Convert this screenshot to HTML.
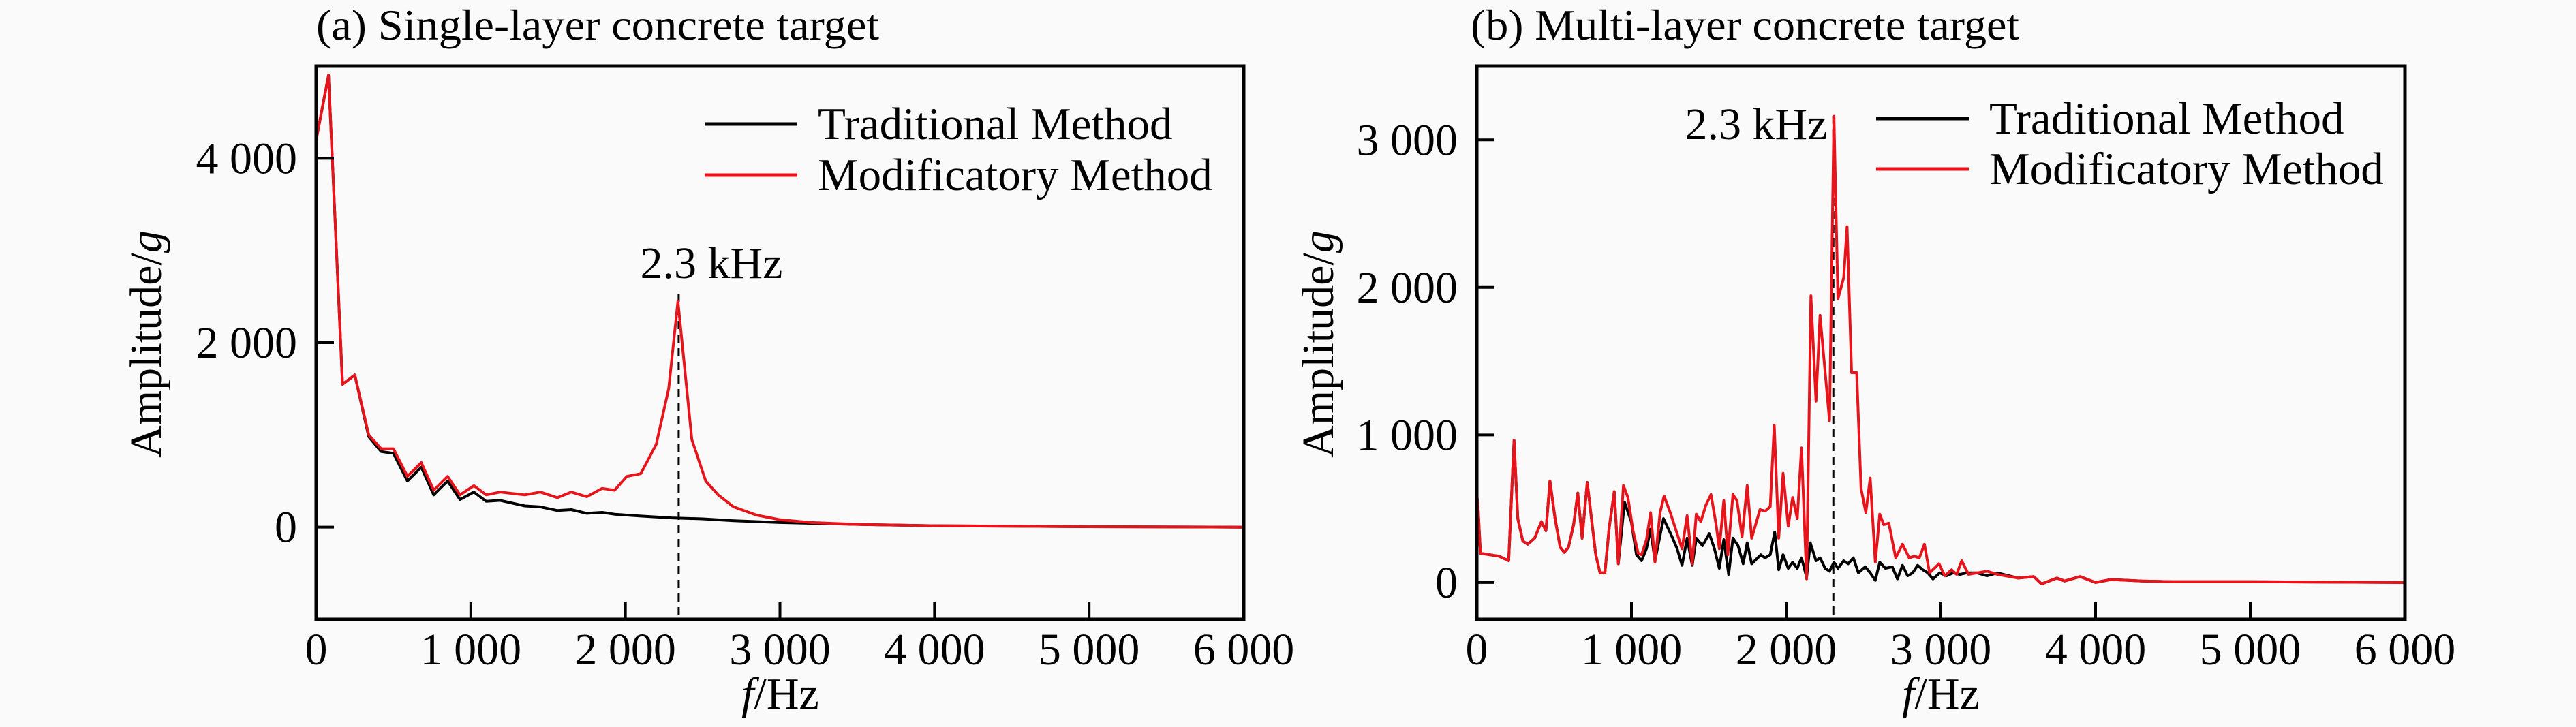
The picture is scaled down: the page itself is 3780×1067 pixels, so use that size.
<!DOCTYPE html>
<html><head><meta charset="utf-8"><style>
body{margin:0;background:#fafafa}
svg{display:block}
text{font-family:"Liberation Serif",serif;fill:#000}
</style></head><body>
<svg id="chart" width="3780" height="1067" viewBox="0 0 3780 1067"></svg>
<script>
// ---- Panel (a) data ----
const aRedF=[0,80,170,250,340,420,500,590,680,760,850,930,1020,1100,1190,1350,1450,1560,1650,1750,1850,1930,2010,2100,2200,2280,2340,2430,2520,2600,2700,2850,3000,3200,3500,4000,5000,6000];
const aRedV=[4200,4900,1550,1650,1000,850,850,550,700,400,550,350,450,350,380,350,380,320,380,330,420,400,550,580,900,1500,2450,950,500,350,220,130,80,50,30,15,5,0];
const aBlkF=[0,80,170,250,340,420,500,590,680,760,850,930,1020,1100,1190,1350,1450,1560,1650,1750,1850,1930,2100,2300,2500,2700,3000,3500,4000,5000,6000];
const aBlkV=[4200,4900,1550,1650,980,820,800,500,650,350,500,300,380,280,290,230,220,180,190,150,160,140,120,100,90,70,50,30,15,5,0];
// ---- Panel (b) data ----
const bRedF=[0,8,24,144,206,241,265,298,330,374,418,447,473,506,539,565,593,626,653,681,714,747,769,797,828,856,889,915,948,977,1010,1043,1065,1097,1124,1152,1185,1211,1251,1295,1327,1360,1393,1419,1448,1481,1514,1547,1568,1597,1623,1656,1682,1715,1748,1777,1831,1864,1897,1923,1952,1980,2013,2042,2072,2099,2132,2160,2193,2219,2280,2309,2335,2372,2394,2423,2456,2484,2515,2543,2576,2605,2631,2664,2708,2752,2795,2828,2861,2894,2927,2988,3025,3069,3102,3135,3179,3233,3299,3365,3500,3600,3650,3750,3800,3900,4000,4100,4300,4500,5000,6000];
const bRedV=[600,514,198,178,147,963,433,280,259,300,412,351,688,433,239,204,239,392,606,300,678,382,188,65,65,371,616,127,657,576,351,198,188,290,473,137,473,586,473,331,229,453,127,463,412,524,596,392,229,555,188,596,555,310,657,300,494,484,514,1065,300,739,382,576,433,912,24,1943,1229,1810,1096,3160,1922,2065,2412,1422,1422,637,473,708,137,463,392,402,167,259,167,178,167,259,65,127,45,86,55,147,55,65,76,55,30,40,-10,30,10,40,0,20,10,5,5,0];
const bBlkF=[0,8,24,144,206,241,265,298,330,374,418,447,473,506,539,565,593,626,653,681,714,747,769,797,828,856,889,915,955,999,1032,1065,1097,1124,1152,1207,1262,1295,1327,1360,1393,1419,1459,1503,1536,1568,1597,1628,1656,1689,1722,1748,1777,1836,1864,1897,1926,1952,1980,2013,2042,2072,2099,2132,2156,2193,2219,2252,2280,2309,2335,2372,2401,2434,2467,2511,2543,2576,2605,2642,2686,2719,2752,2785,2818,2850,2883,2916,2949,2993,3036,3080,3124,3168,3233,3299,3365,3500,3600,3650,3750,3800,3900,4000,4100,4300,4500,5000,6000];
const bBlkV=[600,514,198,178,147,963,433,280,259,300,412,351,688,433,239,204,239,392,606,300,678,382,188,65,65,371,616,127,545,412,188,147,229,361,147,433,310,229,116,300,116,300,249,331,229,96,290,55,300,249,127,269,127,188,167,188,341,86,188,96,137,96,167,35,269,147,167,96,76,137,96,147,127,167,65,106,65,14,137,96,106,24,116,45,65,116,86,65,24,65,45,65,55,65,65,45,65,30,40,-10,30,10,40,0,20,10,5,5,0];
const xTicks=[0,1000,2000,3000,4000,5000,6000];
const xTickLabels=["0","1 000","2 000","3 000","4 000","5 000","6 000"];
const aYTicks=[0,2000,4000], aYTickLabels=["0","2 000","4 000"];
const bYTicks=[0,1000,2000,3000], bYTickLabels=["0","1 000","2 000","3 000"];

const NS="http://www.w3.org/2000/svg";
const svg=document.getElementById('chart');
function el(tag,attrs,parent){const e=document.createElementNS(NS,tag);for(const k in attrs)e.setAttribute(k,attrs[k]);(parent||svg).appendChild(e);return e;}

function panel(p){
  const g=el('g',{});
  
  
  const sx=f=>p.x0+(f-0)/6000*(p.x1-p.x0);
  const sy=v=>p.yb+(v-p.ymin)/(p.ymax-p.ymin)*(p.yt-p.yb);
  const t=el('text',{x:p.titleX,y:58,'font-size':64,textLength:p.titleW,lengthAdjust:'spacingAndGlyphs'},g);
  t.textContent=p.title;
  
  
  const clip=el('clipPath',{id:'c'+p.name},g);
  el('rect',{x:p.x0,y:p.yt,width:p.x1-p.x0,height:p.yb-p.yt},clip);
  // dashed line
  const dl=el('line',{x1:sx(p.peakF),x2:sx(p.peakF),y1:p.dashTop,y2:p.yb,stroke:'#000','stroke-width':3,'stroke-dasharray':'12,8'},g);
  
  
  const series=[[p.bF,p.bV,'#000','traditional-series'],[p.rF,p.rV,'#e8141c','modificatory-series']];
  for(const [F,V,c,n] of series){
    const d=F.map((f,i)=>(i?'L':'M')+sx(f).toFixed(1)+','+sy(V[i]).toFixed(1)).join('');
    const pa=el('path',{d:d,fill:'none',stroke:c,'stroke-width':4,'stroke-linejoin':'round','clip-path':'url(#c'+p.name+')'},g);
    
    
  }
  const fr=el('rect',{x:p.x0,y:p.yt,width:p.x1-p.x0,height:p.yb-p.yt,fill:'none',stroke:'#000','stroke-width':5},g);
  
  
  xTicks.forEach((v,i)=>{
    const x=sx(v);
    if(i>0&&i<6){const tk=el('line',{x1:x,x2:x,y1:p.yb,y2:p.yb-26,stroke:'#000','stroke-width':4},g);
    
    }
    const tl=el('text',{x:x,y:975,'font-size':66,'text-anchor':'middle'},g);
    tl.textContent=xTickLabels[i];
    
    
  });
  p.yTicks.forEach((v,i)=>{
    const y=sy(v);
    const tk=el('line',{x1:p.x0,x2:p.x0+26,y1:y,y2:y,stroke:'#000','stroke-width':4},g);
    
    
    const tl=el('text',{x:p.x0-28,y:y+22,'font-size':66,'text-anchor':'end'},g);
    tl.textContent=p.yLabels[i];
    
    
  });
  const yl=el('text',{x:0,y:0,'font-size':66,'text-anchor':'middle',transform:`translate(${p.ylX},505) rotate(-90)`},g);
  yl.innerHTML='Amplitude/<tspan font-style="italic">g</tspan>';
  
  
  const xl=el('text',{x:p.xlX,y:1040,'font-size':66,'text-anchor':'middle'},g);
  xl.innerHTML='<tspan font-style="italic">f</tspan>/Hz';
  
  
  const pk=el('text',{x:p.pkX,y:p.pkY,'font-size':66,'text-anchor':'middle'},g);
  pk.textContent='2.3 kHz';
  
  
  const lg=el('g',{},g);
  
  
  [['Traditional Method','#000',p.lgY1],['Modificatory Method','#e8141c',p.lgY2]].forEach(([txt,c,y])=>{
    const ln=el('line',{x1:p.lgX,x2:p.lgX+136,y1:y,y2:y,stroke:c,'stroke-width':5},lg);
    
    
    const tt=el('text',{x:p.lgX+166,y:y+22,'font-size':67},lg);
    tt.textContent=txt;
    
    
  });
}
panel({name:'panel-a',title:'(a) Single-layer concrete target',titleX:464,titleW:826,x0:464,x1:1825,yt:97,yb:909,ymin:-1000,ymax:5000,
  rF:aRedF,rV:aRedV,bF:aBlkF,bV:aBlkV,yTicks:aYTicks,yLabels:aYTickLabels,peakF:2345,dashTop:431,
  ylX:236,xlX:1145,pkX:1044,pkY:408,lgX:1034,lgY1:182,lgY2:257});
panel({name:'panel-b',title:'(b) Multi-layer concrete target',titleX:2158,titleW:805,x0:2167,x1:3529,yt:97,yb:909,ymin:-250,ymax:3500,
  rF:bRedF,rV:bRedV,bF:bBlkF,bV:bBlkV,yTicks:bYTicks,yLabels:bYTickLabels,peakF:2305,dashTop:170,
  ylX:1956,xlX:2848,pkX:2577,pkY:204,lgX:2753,lgY1:174,lgY2:248});
</script>
</body></html>
